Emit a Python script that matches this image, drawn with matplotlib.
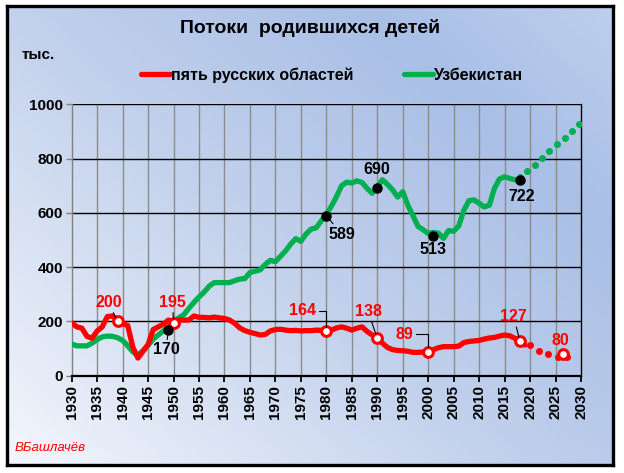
import numpy as np
import matplotlib
matplotlib.use("Agg")
import matplotlib.pyplot as plt
from matplotlib.colors import LinearSegmentedColormap

plt.rcParams["font.family"] = ["Liberation Sans", "DejaVu Sans"]

NARROW = ["Liberation Sans Narrow", "Liberation Sans", "DejaVu Sans"]

# --- data ---
years_ru = list(range(1930, 2020))
births_ru = [
    195, 180, 175, 145, 138, 165, 180, 218, 220, 205,
    192, 185, 105, 65, 90, 115, 170, 180, 190, 205,
    196, 205, 205, 205, 220, 215, 215, 213, 216, 213,
    211, 205, 193, 176, 166, 160, 155, 150, 152, 165,
    170, 171, 168, 166, 167, 165, 166, 166, 168, 167,
    168, 168, 176, 180, 175, 168, 175, 180, 163, 150,
    140, 120, 104, 96, 93, 92, 90, 86, 86, 87,
    88, 96, 103, 107, 107, 107, 109, 122, 126, 128,
    130, 135, 139, 141, 146, 150, 147, 138, 125, 113,
]
years_uz = list(range(1930, 2019))
births_uz = [
    117, 110, 110, 110, 120, 133, 143, 146, 145, 140,
    130, 110, 88, 76, 92, 112, 135, 150, 165, 180,
    197, 213, 225, 248, 270, 290, 308, 330, 343, 343,
    343, 343, 350, 356, 358, 380, 385, 390, 410, 425,
    420, 440, 460, 485, 505, 495, 522, 540, 545, 570,
    595, 625, 660, 700, 713, 710, 718, 712, 690, 672,
    695, 722, 705, 685, 658, 678, 628, 590, 550, 538,
    524, 528, 525, 506, 535, 532, 552, 610, 645, 648,
    635, 622, 628, 690, 725, 733, 727, 722, 718,
]

# projections (dotted)
proj_years_ru = [2020, 2021.7, 2023.5, 2025.4, 2027.2]
proj_ru = [113, 92, 79, 68, 68]
proj_years_uz = [2018, 2019.4, 2020.9, 2022.4, 2023.8, 2025.3, 2026.8, 2028.2, 2029.6]
proj_uz = [731, 755, 777, 802, 827, 852, 877, 903, 927]

# labelled points: (year, value)
mark_years_ru = [1939, 1950, 1980, 1990, 2000, 2018, 2026.5]
mark_ru = [200, 195, 164, 138, 89, 127, 80]
mark_years_uz = [1949, 1980, 1990, 2001, 2018]
mark_uz = [170, 589, 690, 513, 722]

RED = "#FF0000"
GREEN = "#00B050"

fig = plt.figure(figsize=(6.24, 4.73), dpi=100)
fig.patch.set_facecolor("white")

# gradient panel with black frame
bx, by = 7 / 624, 1 - 465 / 473
bw, bh = (613 - 7) / 624, (465 - 6) / 473
bg = fig.add_axes([bx, by, bw, bh], zorder=-5)
cmap = LinearSegmentedColormap.from_list(
    "bg",
    [(0.0, "#F3F6FC"), (0.45, "#C2D1EC"), (0.78, "#A9BFE6"), (1.0, "#BDCFEE")],
)
gx, gy = np.meshgrid(np.linspace(0, 1, 300), np.linspace(0, 1, 300))
bg.imshow(0.55 * gx + 0.45 * gy, cmap=cmap, origin="lower", aspect="auto",
          extent=[0, 1, 0, 1], vmin=0, vmax=1)
bg.set_xticks([])
bg.set_yticks([])
for s in bg.spines.values():
    s.set_linewidth(2.4)
    s.set_color("black")

ax = fig.add_axes([71.7 / 624, 1 - 375.7 / 473, (581 - 71.7) / 624, (375.7 - 104.3) / 473])
ax.set_facecolor("none")
ax.set_xlim(1930, 2030)
ax.set_ylim(0, 1000)

ax.set_xticks(range(1930, 2031, 5))
ax.set_yticks(range(0, 1001, 200))
for x in range(1935, 2030, 5):
    ax.axvline(x, color="#8C8C8C", lw=1.0, zorder=1)
for y in range(200, 1001, 200):
    ax.axhline(y, color="black", lw=1.0, zorder=1)
ax.spines["left"].set_color("#808080")
ax.spines["left"].set_linewidth(1.0)
ax.spines["bottom"].set_linewidth(1.6)
ax.spines["top"].set_visible(False)
ax.spines["right"].set_linewidth(1.0)
ax.tick_params(axis="y", colors="#808080", length=4, width=1.0, pad=2,
               labelcolor="black", labelsize=11)
ax.tick_params(axis="x", colors="black", length=4, width=1.3, pad=3,
               labelsize=11, labelrotation=90)
for lab in ax.get_xticklabels() + ax.get_yticklabels():
    lab.set_fontweight("bold")

ln_ru, = ax.plot(years_ru, births_ru, color=RED, lw=3.8, solid_joinstyle="round",
                 solid_capstyle="round", zorder=4, label="пять русских областей")
ln_uz, = ax.plot(years_uz, births_uz, color=GREEN, lw=3.8, solid_joinstyle="round",
                 solid_capstyle="round", zorder=3, label="Узбекистан")
ax.plot(proj_years_ru, proj_ru, ls="none", marker="o", ms=4, color=RED, zorder=4)
ax.plot(proj_years_uz, proj_uz, ls="none", marker="o", ms=4, color=GREEN, zorder=3)

ax.plot(mark_years_ru, mark_ru, ls="none", marker="o", ms=7, mfc="white", mec=RED,
        mew=2.2, zorder=6)
ax.plot(mark_years_uz, mark_uz, ls="none", marker="o", ms=6.5, color="black", zorder=6)

lead = dict(arrowstyle="-", color="black", lw=0.8, shrinkA=0, shrinkB=3)
fs = 11.5


def note(text, xy, xytext, color, conn=None, arrow=True):
    props = dict(lead)
    if conn:
        props["connectionstyle"] = conn
    ax.annotate(text, xy=xy, xytext=xytext, color=color, fontsize=fs,
                fontweight="bold", ha="center", va="center", zorder=7,
                arrowprops=props if arrow else None)


elbow = "angle,angleA=0,angleB=90,rad=0"

# red labels
note("200", (1939, 200), (1937.2, 270), RED)
note("195", (1950, 195), (1949.8, 270), RED)
note("164", (1980, 164), (1975.3, 240), RED, conn=elbow)
note("138", (1990, 138), (1988.2, 236), RED)
note("89", (2000, 89), (1995.3, 152), RED, conn=elbow)
note("127", (2018, 127), (2016.8, 217), RED)
note("80", (2026.5, 80), (2026, 129), RED, arrow=False)

# Uzbekistan labels (black)
note("170", (1949, 170), (1948.5, 95), "black")
note("589", (1980, 589), (1983, 522), "black")
note("690", (1990, 690), (1989.9, 760), "black", arrow=False)
note("513", (2001, 513), (2000.9, 466), "black", arrow=False)
note("722", (2018, 722), (2018.4, 660), "black", arrow=False)

fig.text(310 / 624, 1 - 28 / 473, "Потоки  родившихся детей", ha="center", va="center",
         fontsize=14, fontweight="bold", family=NARROW)
fig.text(22 / 624, 1 - 55 / 473, "тыс.", ha="left", va="center", fontsize=11,
         fontweight="bold")

fig.legend(handles=[ln_ru, ln_uz], loc="center left",
           bbox_to_anchor=(141 / 624, 1 - 75 / 473), ncol=2, frameon=False,
           handlelength=1.8, handletextpad=0.05, columnspacing=3.2,
           prop=dict(family=NARROW, weight="bold", size=11.5),
           borderaxespad=0, borderpad=0)

fig.text(15 / 624, 1 - 448 / 473, "ВБашлачёв", color=RED, ha="left", va="center",
         fontsize=9.5, style="italic", family=NARROW)

fig.savefig("out.png", dpi=100)
